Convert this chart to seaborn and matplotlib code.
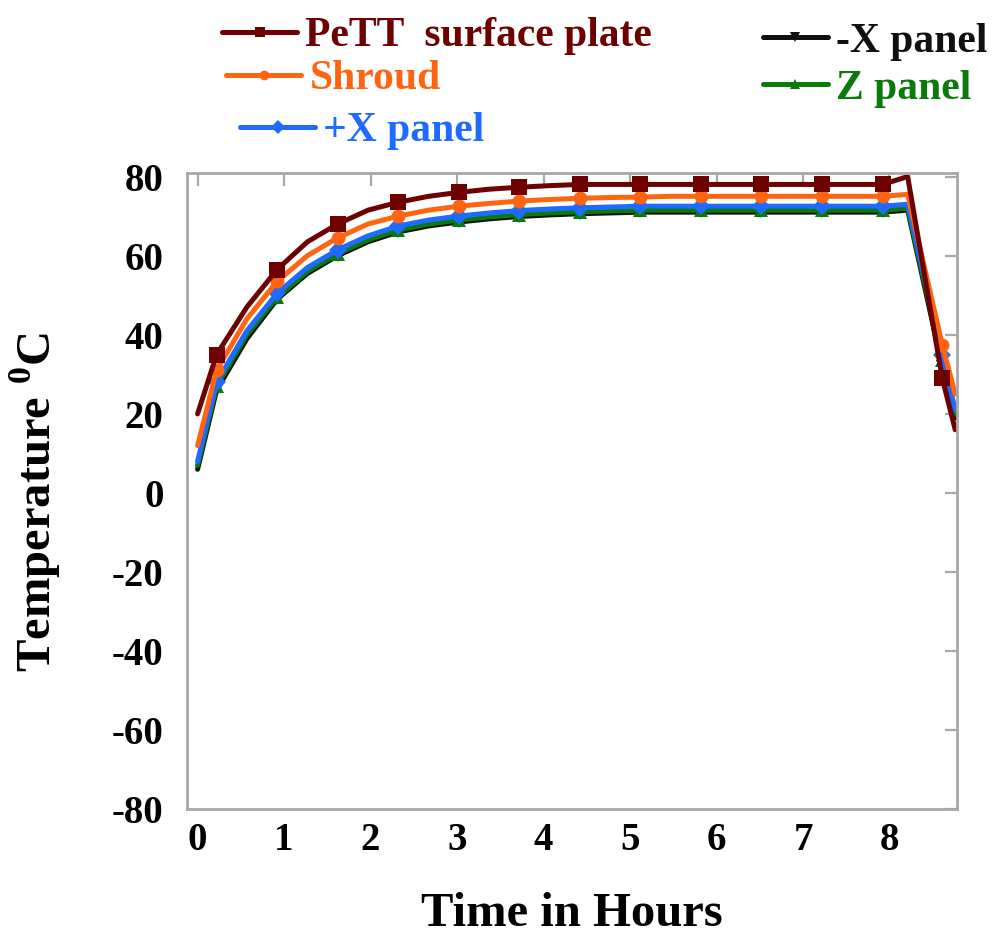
import numpy as np
import pandas as pd
import matplotlib
matplotlib.use("Agg")
import matplotlib.pyplot as plt
from matplotlib.lines import Line2D
import seaborn as sns

# Time axis (hours) and temperature readings (deg C) for each component
time_h = [0.0, 0.22, 0.57, 0.92, 1.27, 1.62, 1.97, 2.32, 2.67, 3.02, 3.37, 3.72,
          4.07, 4.42, 4.77, 5.12, 5.47, 5.82, 6.17, 6.52, 6.87, 7.22, 7.57, 7.92,
          8.21, 8.61, 8.76]

pett_plate = [20, 35, 47, 56.5, 63.5, 68, 71.5, 73.5, 75, 76, 76.8, 77.3,
              77.7, 78, 78, 78, 78, 78, 78, 78, 78, 78, 78, 78,
              80, 29, 16]
shroud = [12, 31, 44, 53.5, 60, 64.5, 68, 70, 71.5, 72.5, 73.2, 73.8,
          74.2, 74.5, 74.7, 74.8, 75, 75, 75, 75, 75, 75, 75, 75,
          75.5, 37.5, 25]
plus_x = [8, 28, 41, 50.5, 57, 61.5, 65, 67.5, 69, 70, 70.8, 71.4,
          71.8, 72.1, 72.3, 72.5, 72.5, 72.5, 72.5, 72.5, 72.5, 72.5, 72.5, 72.5,
          73, 35, 21]
minus_x = [6, 26, 39, 49, 55.5, 60, 63.5, 66, 67.5, 68.5, 69.3, 69.9,
           70.3, 70.6, 70.8, 71, 71, 71, 71, 71, 71, 71, 71, 71,
           71.5, 32, 19]
z_panel = [7, 27, 40, 49.5, 56, 60.5, 64, 66.5, 68, 69, 69.8, 70.4,
           70.8, 71.1, 71.3, 71.5, 71.5, 71.5, 71.5, 71.5, 71.5, 71.5, 71.5, 71.5,
           72, 33.5, 20]

series_names = ["PeTT  surface plate", "Shroud", "+X panel", "-X panel", "Z panel"]
series_values = [pett_plate, shroud, plus_x, minus_x, z_panel]
colors = ["#6e0000", "#ff6410", "#1f6bff", "#101010", "#0a7a0a"]
markers = ["s", "o", "D", "v", "^"]
msizes = [12, 10, 9, 8, 10]

x_ticks = [0, 1, 2, 3, 4, 5, 6, 7, 8]
y_ticks = [-80, -60, -40, -20, 0, 20, 40, 60, 80]

sns.set_theme(style="white")
plt.rcParams["font.family"] = ["Liberation Serif", "DejaVu Serif"]
plt.rcParams["font.weight"] = "bold"
plt.rcParams["text.color"] = "black"
plt.rcParams["axes.labelcolor"] = "black"
plt.rcParams["xtick.labelcolor"] = "black"
plt.rcParams["ytick.labelcolor"] = "black"
plt.rcParams["mathtext.fontset"] = "custom"
plt.rcParams["mathtext.rm"] = "Liberation Serif:bold"
plt.rcParams["mathtext.bf"] = "Liberation Serif:bold"

fig = plt.figure(figsize=(10.01, 9.38), dpi=100)
ax = fig.add_axes([0.187, 0.137, 0.769, 0.679])

# Draw order: lower curves first so the plate curve sits on top
draw_order = [3, 4, 2, 1, 0]
for i in draw_order:
    df = pd.DataFrame({"t": time_h, "T": series_values[i]})
    sns.lineplot(data=df, x="t", y="T", ax=ax, color=colors[i], linewidth=3.6,
                 marker=markers[i], markersize=msizes[i], markeredgewidth=0,
                 markevery=slice(1, None, 2), sort=False, errorbar=None)

ax.set_xlim(-0.12, 8.78)
ax.set_ylim(-80, 81)
ax.set_xticks(x_ticks)
ax.set_yticks(y_ticks)
ax.set_xticklabels([str(v) for v in x_ticks])
ax.set_yticklabels([str(v) for v in y_ticks])
ax.tick_params(axis="both", direction="in", length=9, width=1.6, color="#a8a8a8",
               labelsize=28, labelcolor="black", top=True, right=True)
ax.tick_params(axis="y", pad=17)
ax.tick_params(axis="x", pad=9)
for lab in ax.get_xticklabels() + ax.get_yticklabels():
    lab.set_fontweight("bold")
for sp in ax.spines.values():
    sp.set_color("#a8a8a8")
    sp.set_linewidth(2)

ax.set_xlabel("Time in Hours", fontsize=35, fontweight="bold", color="black")
ax.set_ylabel(r"Temperature $^{0}$C", fontsize=35, fontweight="bold",
              color="black")
ax.yaxis.set_label_coords(-0.161, 0.482)
ax.xaxis.set_label_coords(0.5, -0.129)


def handle(i):
    return Line2D([], [], color=colors[i], linewidth=3.6, marker=markers[i],
                  markersize=7, markeredgewidth=0)


prop = {"family": "Liberation Serif", "weight": "bold", "size": 30}

# One legend per entry so each label sits where it belongs above the axes
entry_anchor = [(0.2218, 0.9616), (0.2258, 0.9157), (0.2398, 0.8603),
                (0.7622, 0.9555), (0.7622, 0.9054)]
entry_hlen = [1.8, 1.8, 1.8, 1.55, 1.55]
for i, anchor in enumerate(entry_anchor):
    fig.legend([handle(i)], [series_names[i]], bbox_to_anchor=anchor,
               loc="center left", frameon=False, handlelength=entry_hlen[i],
               handletextpad=0.2, labelcolor="linecolor", prop=prop,
               borderaxespad=0, borderpad=0)

fig.savefig("out.png", dpi=100)
